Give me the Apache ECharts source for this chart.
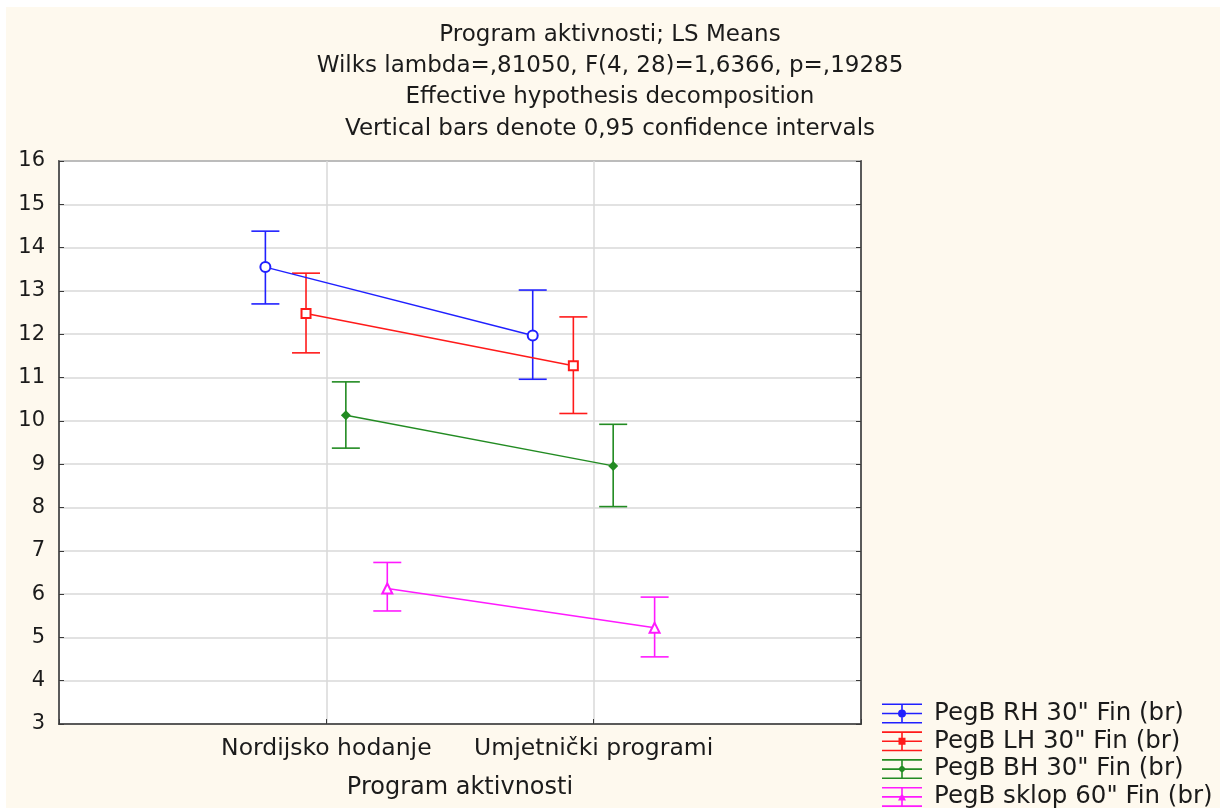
<!DOCTYPE html>
<html>
<head>
<meta charset="utf-8">
<title>Program aktivnosti; LS Means</title>
<script src="https://cdn.jsdelivr.net/npm/echarts@6/dist/echarts.min.js"></script>
<style>
  html, body { margin: 0; padding: 0; background: #ffffff; }
  #chart { width: 1220px; height: 808px; }
</style>
</head>
<body>
<div id="chart"></div>
<script>
// categories on the x axis (placed at 1 and 2 of a 0..3 value axis)
const programs = ['Nordijsko hodanje', 'Umjetnički programi'];
const seriesNames = ['PegB RH 30" Fin (br)', 'PegB LH 30" Fin (br)', 'PegB BH 30" Fin (br)', 'PegB sklop 60" Fin (br)'];
const seriesColors = ['#2020ff', '#ff1a1a', '#228b22', '#ff1aff'];
// horizontal shift of each series inside a category
const offsets = [-0.228, -0.076, 0.073, 0.228];

// LS means and 0,95 confidence limits, [Nordijsko, Umjetnicki]
const rhMean = [13.55, 11.97];
const rhLow = [12.70, 10.96];
const rhHigh = [14.38, 13.02];
const lhMean = [12.48, 11.27];
const lhLow = [11.57, 10.17];
const lhHigh = [13.41, 12.40];
const bhMean = [10.13, 8.96];
const bhLow = [9.37, 8.02];
const bhHigh = [10.90, 9.92];
const sklopMean = [6.13, 5.22];
const sklopLow = [5.61, 4.55];
const sklopHigh = [6.73, 5.93];

const titleLines = [
  'Program aktivnosti; LS Means',
  'Wilks lambda=,81050, F(4, 28)=1,6366, p=,19285',
  'Effective hypothesis decomposition',
  'Vertical bars denote 0,95 confidence intervals'
];

const means = [rhMean, lhMean, bhMean, sklopMean];
const lows = [rhLow, lhLow, bhLow, sklopLow];
const highs = [rhHigh, lhHigh, bhHigh, sklopHigh];
const symbols = ['emptyCircle', 'emptyRect', 'diamond', 'emptyTriangle'];
const symbolSizes = [10, 9, 10, 10];

// legend icons: error bar glyph (3 lines + vertical) with a small marker, 40x20 box
const bars = 'M0,0H40V1.6H0Z M0,9.2H40V10.8H0Z M0,18.4H40V20H0Z M19.2,0H20.8V20H19.2Z';
const legendIcons = [
  'path://' + bars + ' M16,10A4,4 0 1 1 24,10A4,4 0 1 1 16,10Z',
  'path://' + bars + ' M16.5,6.5H23.5V13.5H16.5Z',
  'path://' + bars + ' M20,6L24,10L20,14L16,10Z',
  'path://' + bars + ' M20,6L24,13.5H16Z'
];

const textColor = '#1b1b1b';
const font = 'DejaVu Sans';

const chart = echarts.init(document.getElementById('chart'));

const series = [];
for (let i = 0; i < seriesNames.length; i++) {
  const pts = [];
  const ci = [];
  for (let j = 0; j < programs.length; j++) {
    pts.push([j + 1 + offsets[i], means[i][j]]);
    ci.push([j + 1 + offsets[i], lows[i][j], highs[i][j]]);
  }
  // confidence interval bars
  series.push({
    name: seriesNames[i],
    type: 'custom',
    data: ci,
    z: 3,
    renderItem: function (params, api) {
      const x = api.value(0);
      const top = api.coord([x, api.value(2)]);
      const bot = api.coord([x, api.value(1)]);
      const half = 14;
      const st = { stroke: seriesColors[i], lineWidth: 1.6 };
      return {
        type: 'group',
        children: [
          { type: 'line', shape: { x1: top[0], y1: top[1], x2: bot[0], y2: bot[1] }, style: st },
          { type: 'line', shape: { x1: top[0] - half, y1: top[1], x2: top[0] + half, y2: top[1] }, style: st },
          { type: 'line', shape: { x1: bot[0] - half, y1: bot[1], x2: bot[0] + half, y2: bot[1] }, style: st }
        ]
      };
    }
  });
  // means joined by a line
  series.push({
    name: seriesNames[i],
    type: 'line',
    data: pts,
    z: 4,
    symbol: symbols[i],
    symbolSize: symbolSizes[i],
    color: seriesColors[i],
    lineStyle: { width: 1.5, color: seriesColors[i] },
    itemStyle: { color: seriesColors[i], borderWidth: 1.5 }
  });
}

const option = {
  animation: false,
  backgroundColor: '#ffffff',
  textStyle: { fontFamily: font },
  graphic: [
    {
      type: 'rect',
      z: -10,
      shape: { x: 6, y: 7, width: 1214, height: 801 },
      style: { fill: '#fef9ee' }
    }
  ],
  title: {
    text: titleLines.join('\n'),
    left: 'center',
    top: 14,
    textStyle: {
      fontFamily: font,
      fontSize: 23,
      fontWeight: 'normal',
      color: textColor,
      lineHeight: 31.3
    }
  },
  legend: {
    orient: 'vertical',
    left: 882,
    top: 701,
    height: 130,
    padding: 0,
    itemWidth: 40,
    itemHeight: 20,
    itemGap: 2.8,
    selectedMode: false,
    textStyle: {
      fontFamily: font,
      fontSize: 24.5,
      color: textColor,
      lineHeight: 20,
      padding: [0, 0, 0, 7]
    },
    data: seriesNames.map(function (n, i) {
      return { name: n, icon: legendIcons[i], itemStyle: { color: seriesColors[i] } };
    })
  },
  grid: {
    left: 59,
    right: 359,
    top: 161,
    bottom: 84,
    show: true,
    backgroundColor: '#ffffff',
    borderColor: '#3a3a3a',
    borderWidth: 1.5
  },
  xAxis: {
    type: 'value',
    min: 0,
    max: 3,
    interval: 1,
    name: 'Program aktivnosti',
    nameLocation: 'middle',
    nameGap: 52,
    nameTextStyle: { fontFamily: font, fontSize: 24, color: textColor },
    axisLine: { show: true, lineStyle: { color: '#3a3a3a', width: 1.5 } },
    axisTick: { show: true, inside: true, length: 5, lineStyle: { color: '#3a3a3a' } },
    axisLabel: {
      margin: 13,
      fontFamily: font,
      fontSize: 23.5,
      color: textColor,
      formatter: function (v) {
        return programs[v - 1] || '';
      }
    },
    splitLine: { show: true, lineStyle: { color: '#d9d9d9', width: 1.5 } }
  },
  yAxis: [
    {
      type: 'value',
      min: 3,
      max: 16,
      interval: 1,
      axisLine: { show: true, lineStyle: { color: '#3a3a3a', width: 1.5 } },
      axisTick: { show: true, inside: true, length: 5, lineStyle: { color: '#3a3a3a' } },
      axisLabel: { margin: 14, fontFamily: font, fontSize: 21, color: textColor },
      splitLine: { show: true, lineStyle: { color: '#d9d9d9', width: 1.5 } }
    },
    {
      type: 'value',
      position: 'right',
      min: 3,
      max: 16,
      interval: 1,
      axisLine: { show: true, lineStyle: { color: '#3a3a3a', width: 1.5 } },
      axisTick: { show: true, inside: true, length: 5, lineStyle: { color: '#3a3a3a' } },
      axisLabel: { show: false },
      splitLine: { show: false }
    }
  ],
  series: series
};

chart.setOption(option);
</script>
</body>
</html>
